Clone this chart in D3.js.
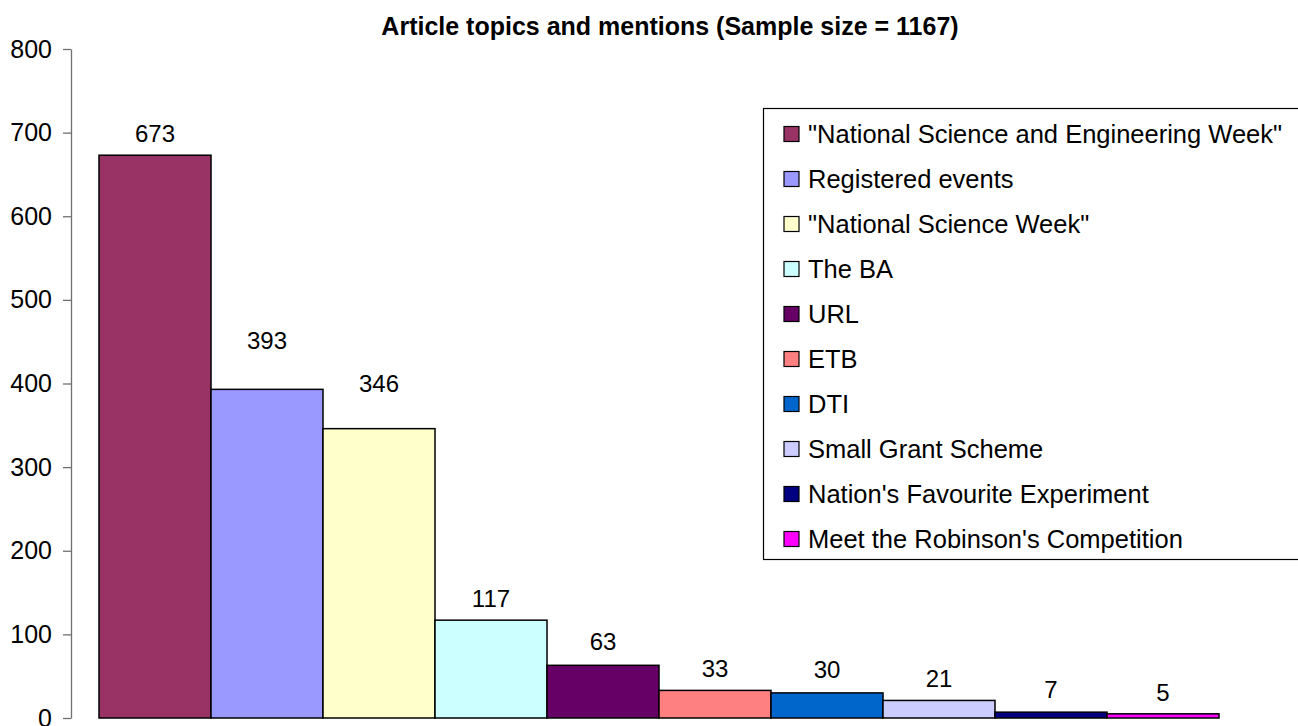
<!DOCTYPE html>
<html>
<head>
<meta charset="utf-8">
<script src="https://cdn.jsdelivr.net/npm/d3@7"></script>
<style>
  body { margin: 0; background: #fff; }
  svg { display: block; font-family: Arial, "Liberation Sans", sans-serif; }
</style>
</head>
<body>
<svg id="chart" width="1298" height="726"></svg>
<script>
const title = 'Article topics and mentions (Sample size = 1167)';
const topics = [
  '"National Science and Engineering Week"',
  'Registered events',
  '"National Science Week"',
  'The BA',
  'URL',
  'ETB',
  'DTI',
  'Small Grant Scheme',
  "Nation's Favourite Experiment",
  "Meet the Robinson's Competition"
];
const mentions = [673, 393, 346, 117, 63, 33, 30, 21, 7, 5];
const colors = ['#993366', '#9999FF', '#FFFFCC', '#CCFFFF', '#660066',
  '#FF8080', '#0066CC', '#CCCCFF', '#000080', '#FF00FF'];
const yTicks = [0, 100, 200, 300, 400, 500, 600, 700, 800];

const svg = d3.select('#chart');
const data = topics.map((t, i) => ({ topic: t, value: mentions[i] }));

let x = d3.scaleBand()
  .domain(topics)
  .range([71, 1247])
  .paddingInner(0)
  .paddingOuter(0.25);

let y = d3.scaleLinear()
  .domain([0, 800])
  .range([718, 49]);

let color = d3.scaleOrdinal().domain(topics).range(colors);

// y axis
let yAxis = svg.append('g')
  .attr('transform', 'translate(71,0)')
  .call(d3.axisLeft(y).tickValues(yTicks).tickSize(8).tickSizeOuter(0).tickPadding(11));
yAxis.select('.domain').attr('stroke', '#707070').attr('stroke-width', 1.3);
yAxis.selectAll('.tick line').attr('stroke', '#707070').attr('stroke-width', 1.3);
yAxis.selectAll('.tick text')
  .attr('fill', '#000')
  .style('font-size', '25px')
  .style('font-family', 'Arial, "Liberation Sans", sans-serif');

// bars
svg.append('g').selectAll('rect')
  .data(data)
  .enter()
  .append('rect')
  .attr('x', d => x(d.topic))
  .attr('y', d => y(d.value))
  .attr('width', x.bandwidth())
  .attr('height', d => y(0) - y(d.value))
  .attr('fill', d => color(d.topic))
  .attr('stroke', '#000')
  .attr('stroke-width', 1.5);

// value labels (the 2nd and 3rd sit higher in the original)
let labelLift = [0, 27, 24, 0, 2, 0, 2, 0, 1, 0];
svg.append('g').selectAll('text')
  .data(data)
  .enter()
  .append('text')
  .attr('x', d => x(d.topic) + x.bandwidth() / 2)
  .attr('y', (d, i) => y(d.value) - 13 - labelLift[i])
  .attr('text-anchor', 'middle')
  .style('font-size', '24px')
  .text(d => d.value);

// title
svg.append('text')
  .attr('x', 670)
  .attr('y', 35)
  .attr('text-anchor', 'middle')
  .style('font-size', '25px')
  .style('font-weight', 'bold')
  .text(title);

// legend
let legendBox = svg.append('g');
legendBox.append('rect')
  .attr('x', 763.5)
  .attr('y', 108.5)
  .attr('width', 600)
  .attr('height', 451)
  .attr('fill', '#fff')
  .attr('stroke', '#000')
  .attr('stroke-width', 1.2);

let rowH = 45;
let legend = legendBox.selectAll('.legend')
  .data(topics)
  .enter()
  .append('g')
  .attr('class', 'legend')
  .attr('transform', (d, i) => `translate(784,${134 + i * rowH})`);
legend.append('rect')
  .attr('x', 0)
  .attr('y', -7.5)
  .attr('width', 15)
  .attr('height', 15)
  .attr('fill', color)
  .attr('stroke', '#000')
  .attr('stroke-width', 1.2);
legend.append('text')
  .attr('x', 24)
  .attr('y', 0)
  .attr('dy', '0.36em')
  .style('font-size', '25.5px')
  .text(d => d);
</script>
</body>
</html>
